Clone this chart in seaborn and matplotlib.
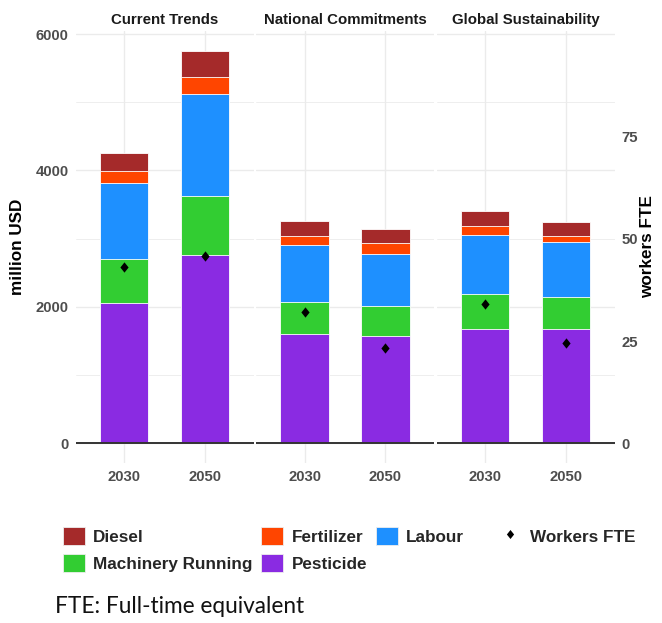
import pandas as pd
import seaborn as sns
import matplotlib.pyplot as plt
from matplotlib.patches import Patch
from matplotlib.lines import Line2D

# Values (million USD, workers FTE)
scenarios = ["Current Trends", "National Commitments", "Global Sustainability"]
years = ["2030", "2050"]
pesticide = [2055, 2754, 1601, 1572, 1674, 1670]
machinery = [645, 865, 469, 445, 509, 469]
labour = [1113, 1504, 831, 766, 874, 810]
fertilizer = [177, 243, 136, 151, 126, 84]
diesel = [273, 391, 220, 206, 226, 205]
workers = [43.2, 45.8, 32.1, 23.3, 34.0, 24.5]

# stack order, bottom to top
components = ["Pesticide", "Machinery Running", "Labour", "Fertilizer", "Diesel"]
colors = {"Pesticide": "#8A2BE2", "Machinery Running": "#32CD32", "Labour": "#1E90FF",
          "Fertilizer": "#FF4500", "Diesel": "#A52A2A"}

df = pd.DataFrame({
    "scenario": [s for s in scenarios for _ in years],
    "year": years * len(scenarios),
    "Pesticide": pesticide,
    "Machinery Running": machinery,
    "Labour": labour,
    "Fertilizer": fertilizer,
    "Diesel": diesel,
    "workers": workers,
})
# cumulative tops for stacking
cum = df[components].cumsum(axis=1)
for c in components:
    df["top_" + c] = cum[c]

sns.set_theme(style="white")
plt.rcParams["font.family"] = ["Liberation Sans", "DejaVu Sans"]

W, H = 662, 623
fig = plt.figure(figsize=(W / 100, H / 100), dpi=100)

ylim = (-288, 6045)
ratio = 60  # secondary axis: USD / 60 = workers
lefts = [75.5, 256, 436.5]
tick_kw = dict(labelsize=10.7, labelcolor="#4D4D4D", length=0)

diamond = [(0, 1), (0.8, 0), (0, -1), (-0.8, 0)]

for i, sc in enumerate(scenarios):
    ax = fig.add_axes([lefts[i] / W, 1 - 463 / H, 178 / W, 432 / H])
    sub = df[df["scenario"] == sc]
    for c in reversed(components):
        sns.barplot(data=sub, x="year", y="top_" + c, color=colors[c], saturation=1,
                    width=0.6, edgecolor="white", linewidth=0.6, ax=ax)
    ax.axhline(0, color="#333333", lw=1.4, zorder=3)
    ax.set_xlim(-0.6, 1.6)
    ax.set_ylim(*ylim)
    ax.set_yticks([0, 2000, 4000, 6000])
    ax.set_yticks([1000, 3000, 5000], minor=True)
    ax.grid(True, which="major", color="#EBEBEB", lw=1.0)
    ax.grid(True, which="minor", axis="y", color="#EBEBEB", lw=0.6)
    ax.set_axisbelow(True)
    for s in ax.spines.values():
        s.set_visible(False)
    ax.tick_params(axis="both", which="both", pad=5, **tick_kw)
    ax.tick_params(axis="y", labelleft=(i == 0))
    for lab in ax.get_xticklabels() + ax.get_yticklabels():
        lab.set_fontweight("bold")
    ax.set_xlabel("")
    ax.set_ylabel("")
    ax.set_title(sc, fontsize=10.8, fontweight="bold", color="#1A1A1A", pad=4.7)

    tw = ax.twinx()
    sns.scatterplot(data=sub, x="year", y="workers", marker=diamond, s=55, color="black",
                    edgecolor="black", linewidth=0, legend=False, ax=tw, zorder=5)
    tw.set_ylim(ylim[0] / ratio, ylim[1] / ratio)
    tw.set_xlim(-0.6, 1.6)
    tw.grid(False)
    for s in tw.spines.values():
        s.set_visible(False)
    tw.set_ylabel("")
    tw.set_xlabel("")
    if i == len(scenarios) - 1:
        tw.set_yticks([0, 25, 50, 75])
        tw.tick_params(axis="y", pad=5, **tick_kw)
        for lab in tw.get_yticklabels():
            lab.set_fontweight("bold")
    else:
        tw.set_yticks([])

fig.text(18 / W, 1 - 247 / H, "million USD", rotation=90, ha="center", va="center",
         fontsize=12.3, fontweight="bold", color="black")
fig.text(648 / W, 1 - 247 / H, "workers FTE", rotation=90, ha="center", va="center",
         fontsize=12.3, fontweight="bold", color="black")

# legends
order = ["Diesel", "Machinery Running", "Fertilizer", "Pesticide", "Labour"]
handles = [Patch(facecolor=colors[c], edgecolor="#EEEEEE", lw=0.6) for c in order]
leg_kw = dict(frameon=False, prop={"weight": "bold", "size": 12.3}, handlelength=1.29,
              handleheight=1.23, handletextpad=0.5, labelspacing=0.55, borderpad=0,
              borderaxespad=0, loc="upper left")
leg1 = fig.legend(handles, order, ncol=3, columnspacing=0.5,
                  bbox_to_anchor=(62.5 / W, 1 - 527 / H), **leg_kw)
wh = Line2D([], [], ls="none", marker=diamond, markersize=6.5, color="black", mew=0)
fig.legend([wh], ["Workers FTE"], bbox_to_anchor=(499 / W, 1 - 527 / H), **leg_kw)

fig.text(55 / W, 1 - 613 / H, "FTE: Full-time equivalent", fontsize=16.3,
         family=["Lato", "DejaVu Sans"], va="baseline", color="#111111")

fig.savefig("out.png", dpi=100)
